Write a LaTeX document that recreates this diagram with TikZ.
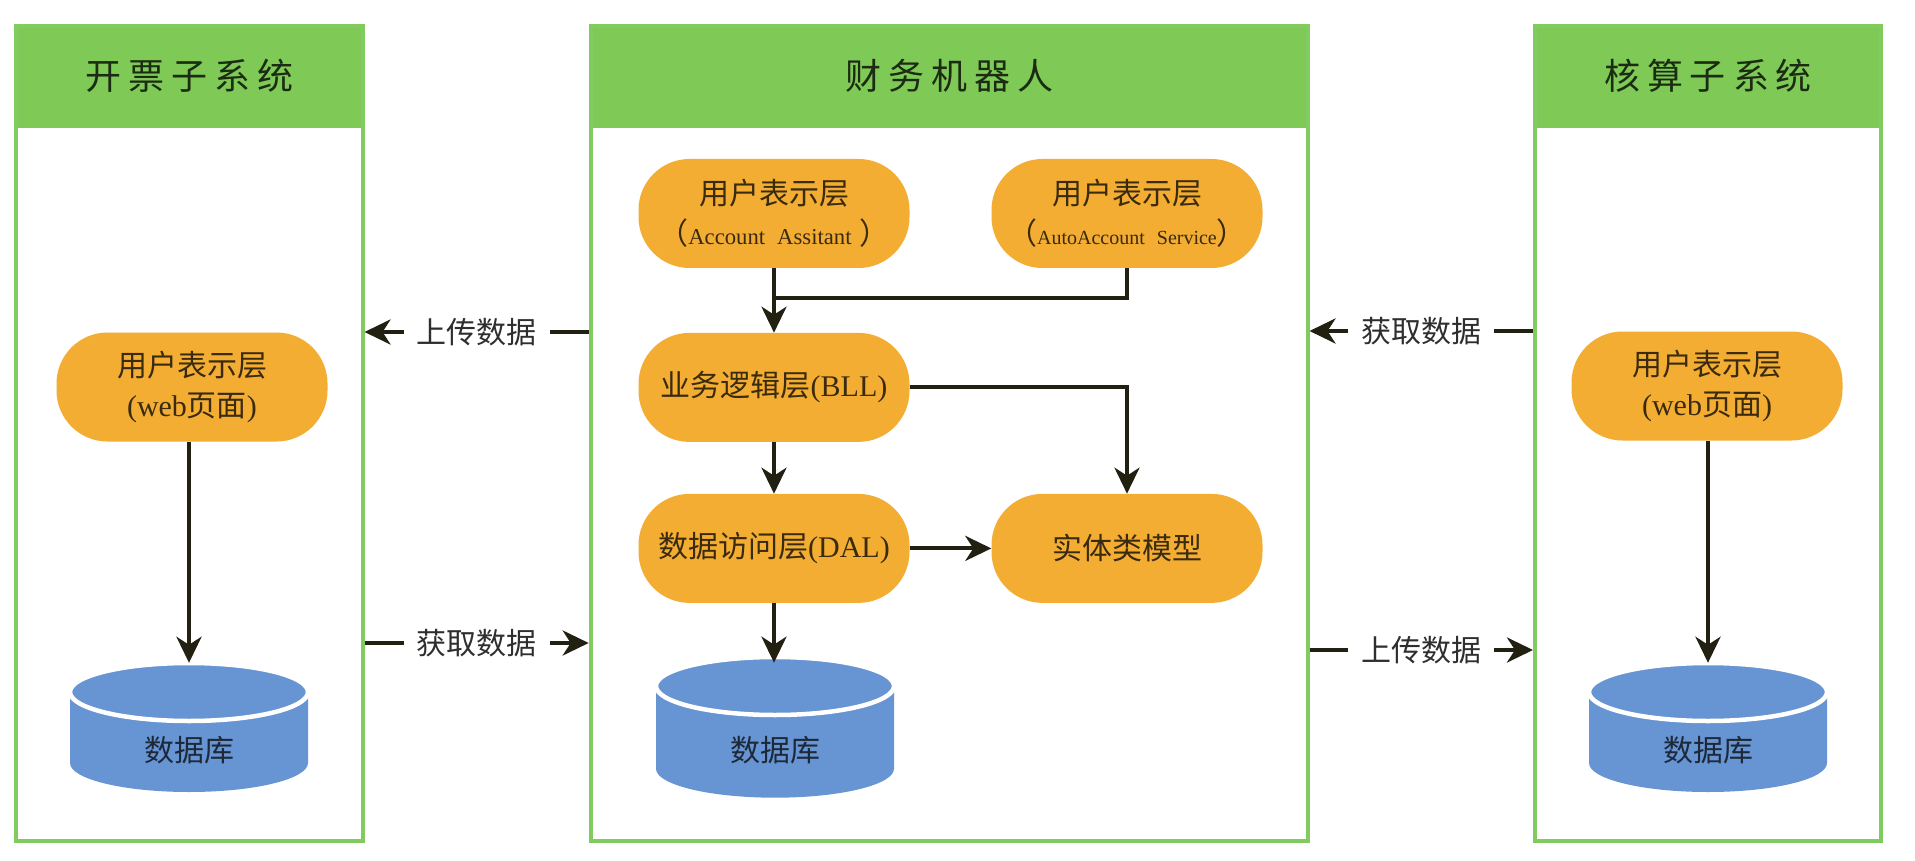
\documentclass[tikz,border=0pt]{standalone}
\usepackage{fontspec}
\setmainfont{Liberation Serif}
\newfontfamily\cjk{Noto Sans CJK SC}
\usetikzlibrary{arrows.meta,calc}
\definecolor{hdrgreen}{HTML}{7FC957}
\definecolor{bordergreen}{HTML}{82CB5E}
\definecolor{orangefill}{HTML}{F3AD33}
\definecolor{dbblue}{HTML}{6794D2}
\definecolor{arrowc}{HTML}{222010}
\definecolor{hdrtext}{HTML}{1B2C12}
\definecolor{nodetext}{HTML}{3A2A0E}
\definecolor{dbtext}{HTML}{1D2838}
\definecolor{lbltext}{HTML}{2E2E2E}
\newcommand{\dbcyl}[4]{%
  \fill[dbblue] (#2-119,#3+29) -- (#2-119,#4-29) arc[start angle=180,end angle=0,x radius=119,y radius=29] -- (#2+119,#3+29) -- cycle;
  \filldraw[fill=dbblue,draw=white,line width=4.5pt] (#2,#3+29) ellipse[x radius=119,y radius=29];
  \node[dbbox] (#1) at (#2,{(#3+#4)/2}) {};
}
\begin{document}
\begin{tikzpicture}[x=1pt,y=-1pt,
  panelbox/.style={draw=bordergreen, line width=4pt, inner sep=0pt, minimum height=814.7pt},
  hdr/.style={fill=hdrgreen, inner sep=0pt, minimum height=103.7pt, anchor=north, text=hdrtext, font=\fontsize{36}{40}\selectfont\cjk},
  stadium/.style={fill=orangefill, rounded corners=51pt, minimum width=271pt, minimum height=109pt, inner sep=0pt, align=center, text=nodetext, font=\fontsize{30}{40}\selectfont},
  dbbox/.style={inner sep=0pt, minimum width=238pt, minimum height=129pt},
  dbtxt/.style={text=dbtext, font=\fontsize{30}{36}\selectfont\cjk, inner sep=0pt},
  arr/.style={draw=arrowc, line width=4pt, -{Stealth[length=26pt,width=25pt,inset=8pt]}},
  link/.style={draw=arrowc, line width=4pt},
  lbl/.style={fill=white, text=lbltext, font=\fontsize{30}{36}\selectfont\cjk, inner xsep=13pt, inner ysep=6pt}
]
\useasboundingbox[fill=white] (0,0) rectangle (1915,861);

% headers
\node[hdr, minimum width=350.2pt] (Lh) at (189.4,24) {开\kern7pt 票\kern7pt 子\kern7pt 系\kern7pt 统};
\node[hdr, minimum width=720.8pt] (Ch) at (949.1,24) {财\kern7pt 务\kern7pt 机\kern7pt 器\kern7pt 人};
\node[hdr, minimum width=350pt] (Rh) at (1708,24) {核\kern7pt 算\kern7pt 子\kern7pt 系\kern7pt 统};

% panels
\node[panelbox, minimum width=346.2pt] (Lp) at (189.4,433.35) {};
\node[panelbox, minimum width=716.8pt] (Cp) at (949.1,433.35) {};
\node[panelbox, minimum width=346pt] (Rp) at (1708,433.35) {};

% left panel
\node[stadium] (Ls) at (192,387) {{\cjk 用户表示层}\\(web{\cjk 页面})};
\dbcyl{Ldb}{189}{663}{792}
\node[dbtxt] (Ldbt) at (189,750) {数据库};

% center panel
\node[stadium] (A) at (774,213.5) {{\cjk 用户表示层}\\{\cjk （}{\fontsize{22.7}{40}\selectfont Account\hspace{12pt}Assitant\hspace{8pt}}{\cjk ）}};
\node[stadium] (B) at (1127,213.5) {{\cjk 用户表示层}\\{\cjk （}{\fontsize{20}{40}\selectfont AutoAccount\hspace{12pt}Service}{\cjk ）}};
\node[stadium] (BLL) at (774,387.4) {{\cjk 业务逻辑层}(BLL)};
\node[stadium] (DAL) at (774,548.4) {{\cjk 数据访问层}(DAL)};
\node[stadium] (E) at (1127,548.4) {{\cjk 实体类模型}};
\dbcyl{Cdb}{775}{657}{797.7}
\node[dbtxt] (Cdbt) at (775,750) {数据库};

% right panel
\node[stadium] (Rs) at (1707,386) {{\cjk 用户表示层}\\(web{\cjk 页面})};
\dbcyl{Rdb}{1708}{663}{792}
\node[dbtxt] (Rdbt) at (1708,750) {数据库};

% connectors inside panels
\draw[arr] (Ls.south -| Ldb.north) -- (Ldb.north);
\draw[arr] (A.south) -- (BLL.north);
\draw[link] (B.south) |- ($(A.south)!0.46!(BLL.north)$);
\draw[arr] (BLL.east) -| (E.north);
\draw[arr] (BLL.south) -- (DAL.north);
\draw[arr] (DAL.east) -- (E.west);
\draw[arr] (DAL.south) -- (DAL.south |- Cdb.north);
\draw[arr] (Rs.south -| Rdb.north) -- (Rdb.north);

% data flow between panels
\coordinate (yA) at (0,332);
\coordinate (yB) at (0,643);
\coordinate (yC) at (0,331);
\coordinate (yD) at (0,650);
\draw[arr] (Cp.west |- yA) -- node[lbl] (l1) {上传数据} (Lp.east |- yA);
\draw[arr] (Lp.east |- yB) -- node[lbl] (l2) {获取数据} (Cp.west |- yB);
\draw[arr] (Rp.west |- yC) -- node[lbl] (l3) {获取数据} (Cp.east |- yC);
\draw[arr] (Cp.east |- yD) -- node[lbl] (l4) {上传数据} (Rp.west |- yD);
\end{tikzpicture}
\end{document}
